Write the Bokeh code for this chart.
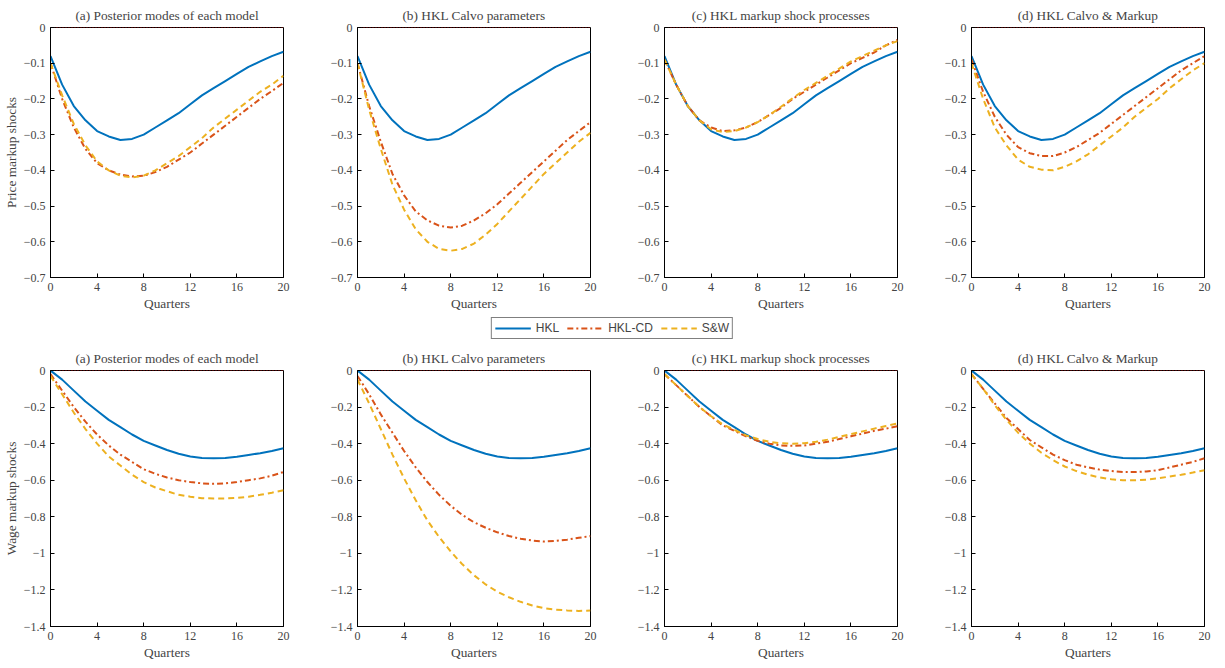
from bokeh.plotting import figure
from bokeh.layouts import gridplot, column
from bokeh.models import Legend, LegendItem, Range1d, FixedTicker
from bokeh.embed import file_html
from bokeh.resources import INLINE

# Quarters
quarters = list(range(21))

titles = ["(a) Posterior modes of each model", "(b) HKL Calvo parameters",
          "(c) HKL markup shock processes", "(d) HKL Calvo & Markup"]

# Price markup shocks
price_hkl = [-0.08, -0.16, -0.22, -0.26, -0.29, -0.305, -0.315, -0.312, -0.30, -0.28, -0.26,
             -0.24, -0.215, -0.19, -0.17, -0.15, -0.13, -0.11, -0.095, -0.08, -0.068]
price_cd = [
    [-0.10, -0.20, -0.28, -0.34, -0.38, -0.40, -0.412, -0.417, -0.415, -0.405, -0.39,
     -0.37, -0.35, -0.325, -0.30, -0.275, -0.25, -0.225, -0.20, -0.178, -0.155],
    [-0.10, -0.22, -0.32, -0.41, -0.47, -0.515, -0.54, -0.555, -0.56, -0.555, -0.54,
     -0.52, -0.495, -0.465, -0.435, -0.405, -0.375, -0.345, -0.315, -0.29, -0.265],
    [-0.09, -0.16, -0.22, -0.26, -0.28, -0.29, -0.288, -0.28, -0.265, -0.245, -0.225,
     -0.20, -0.18, -0.16, -0.14, -0.12, -0.10, -0.085, -0.07, -0.05, -0.035],
    [-0.09, -0.18, -0.25, -0.30, -0.335, -0.352, -0.36, -0.36, -0.35, -0.335, -0.315,
     -0.295, -0.27, -0.245, -0.22, -0.195, -0.17, -0.145, -0.12, -0.10, -0.08],
]
price_sw = [
    [-0.10, -0.19, -0.27, -0.33, -0.375, -0.40, -0.415, -0.42, -0.415, -0.40, -0.38,
     -0.36, -0.335, -0.31, -0.28, -0.255, -0.23, -0.205, -0.18, -0.16, -0.135],
    [-0.10, -0.23, -0.34, -0.44, -0.51, -0.565, -0.60, -0.62, -0.625, -0.62, -0.605,
     -0.58, -0.55, -0.515, -0.48, -0.445, -0.41, -0.38, -0.35, -0.32, -0.295],
    [-0.09, -0.16, -0.22, -0.26, -0.285, -0.293, -0.29, -0.28, -0.265, -0.245, -0.222,
     -0.198, -0.175, -0.155, -0.135, -0.115, -0.095, -0.08, -0.065, -0.05, -0.038],
    [-0.10, -0.20, -0.28, -0.33, -0.37, -0.39, -0.398, -0.40, -0.39, -0.375, -0.355,
     -0.33, -0.305, -0.28, -0.25, -0.225, -0.20, -0.17, -0.145, -0.12, -0.10],
]

# Wage markup shocks
wage_hkl = [0, -0.05, -0.11, -0.17, -0.22, -0.27, -0.31, -0.35, -0.385, -0.41, -0.435,
            -0.455, -0.47, -0.478, -0.48, -0.478, -0.472, -0.462, -0.452, -0.44, -0.425]
wage_cd = [
    [-0.02, -0.11, -0.20, -0.28, -0.35, -0.41, -0.46, -0.50, -0.54, -0.565, -0.585,
     -0.60, -0.61, -0.617, -0.62, -0.617, -0.61, -0.60, -0.59, -0.575, -0.555],
    [-0.03, -0.13, -0.24, -0.34, -0.44, -0.53, -0.61, -0.68, -0.74, -0.79, -0.83,
     -0.86, -0.885, -0.905, -0.92, -0.93, -0.935, -0.932, -0.925, -0.915, -0.905],
    [-0.02, -0.08, -0.14, -0.20, -0.25, -0.30, -0.33, -0.36, -0.385, -0.40, -0.41,
     -0.412, -0.41, -0.40, -0.39, -0.375, -0.36, -0.345, -0.33, -0.318, -0.305],
    [-0.02, -0.10, -0.18, -0.26, -0.32, -0.38, -0.42, -0.46, -0.49, -0.515, -0.53,
     -0.542, -0.55, -0.555, -0.555, -0.552, -0.545, -0.53, -0.515, -0.50, -0.48],
]
wage_sw = [
    [-0.03, -0.13, -0.23, -0.32, -0.40, -0.47, -0.52, -0.57, -0.61, -0.64, -0.66,
     -0.68, -0.69, -0.698, -0.70, -0.70, -0.697, -0.69, -0.68, -0.668, -0.655],
    [-0.05, -0.18, -0.32, -0.46, -0.59, -0.71, -0.82, -0.91, -0.99, -1.06, -1.12,
     -1.17, -1.21, -1.24, -1.265, -1.285, -1.30, -1.308, -1.312, -1.315, -1.313],
    [-0.02, -0.08, -0.14, -0.20, -0.25, -0.295, -0.325, -0.355, -0.375, -0.39, -0.398,
     -0.40, -0.398, -0.39, -0.378, -0.363, -0.348, -0.333, -0.318, -0.303, -0.29],
    [-0.02, -0.10, -0.19, -0.27, -0.34, -0.40, -0.45, -0.49, -0.525, -0.55, -0.57,
     -0.585, -0.595, -0.60, -0.60, -0.597, -0.59, -0.58, -0.57, -0.558, -0.545],
]

BLUE, RED, YELLOW = "#0072BD", "#D95319", "#EDB120"
SERIF = "Liberation Serif"


def panel(title, hkl, cd, sw, ymin, yticks, ylabel, fh):
    p = figure(frame_width=233, frame_height=fh, output_backend="svg", toolbar_location=None,
               x_range=Range1d(0, 20), y_range=Range1d(ymin, 0),
               min_border_left=44, min_border_right=30, min_border_top=12,
               min_border_bottom=36)
    p.title.text = title
    p.title.align = "center"
    p.title.text_font = SERIF
    p.title.text_font_size = "10pt"
    p.title.text_font_style = "normal"
    p.title.offset = -4
    p.grid.visible = False
    p.outline_line_color = "black"
    p.xaxis.ticker = FixedTicker(ticks=[0, 4, 8, 12, 16, 20])
    p.yaxis.ticker = FixedTicker(ticks=yticks)
    p.xaxis.axis_label = "Quarters"
    if ylabel:
        p.yaxis.axis_label = ylabel
    for ax in (p.xaxis[0], p.yaxis[0]):
        ax.major_tick_in = 4
        ax.major_tick_out = 0
        ax.minor_tick_out = 0
        ax.minor_tick_in = 0
        ax.axis_line_color = "black"
        ax.major_label_text_font = SERIF
        ax.major_label_text_font_size = "9pt"
        ax.axis_label_text_font = SERIF
        ax.axis_label_text_font_size = "10pt"
        ax.axis_label_text_font_style = "normal"
        ax.axis_label_standoff = 2
    p.line([0, 20], [0, 0], color="red", line_dash="1 2", line_width=1)
    p.line(quarters, hkl, color=BLUE, line_width=2)
    p.line(quarters, cd, color=RED, line_width=2, line_dash="6 3 2 3")
    p.line(quarters, sw, color=YELLOW, line_width=2, line_dash="6 4")
    return p


top, bottom = [], []
for i in range(4):
    top.append(panel(titles[i], price_hkl, price_cd[i], price_sw[i], -0.7,
                     [-0.7, -0.6, -0.5, -0.4, -0.3, -0.2, -0.1, 0],
                     "Price markup shocks" if i == 0 else None, 250))
    bottom.append(panel(titles[i], wage_hkl, wage_cd[i], wage_sw[i], -1.4,
                        [-1.4, -1.2, -1.0, -0.8, -0.6, -0.4, -0.2, 0],
                        "Wage markup shocks" if i == 0 else None, 256))

# legend strip
lg = figure(width=1224, height=30, output_backend="svg", toolbar_location=None,
            x_range=Range1d(0, 1), y_range=Range1d(0, 1), min_border=0)
lg.axis.visible = False
lg.grid.visible = False
lg.outline_line_color = None
a = lg.line([5, 6], [5, 6], color=BLUE, line_width=2)
b = lg.line([5, 6], [5, 6], color=RED, line_width=2, line_dash="6 3 2 3")
c = lg.line([5, 6], [5, 6], color=YELLOW, line_width=2, line_dash="6 4")
legend = Legend(items=[LegendItem(label="HKL", renderers=[a]),
                       LegendItem(label="HKL-CD", renderers=[b]),
                       LegendItem(label="S&W", renderers=[c])],
                orientation="horizontal", location="center",
                border_line_color="black", padding=3, margin=0, spacing=8,
                label_text_font="Liberation Sans", label_text_font_size="9pt",
                glyph_width=36, glyph_height=14, label_height=14)
lg.add_layout(legend, "center")

g1 = gridplot([top], toolbar_location=None)
g2 = gridplot([bottom], toolbar_location=None)
layout = column(g1, lg, g2, spacing=0)

open("out.html", "w").write(file_html(layout, INLINE))
